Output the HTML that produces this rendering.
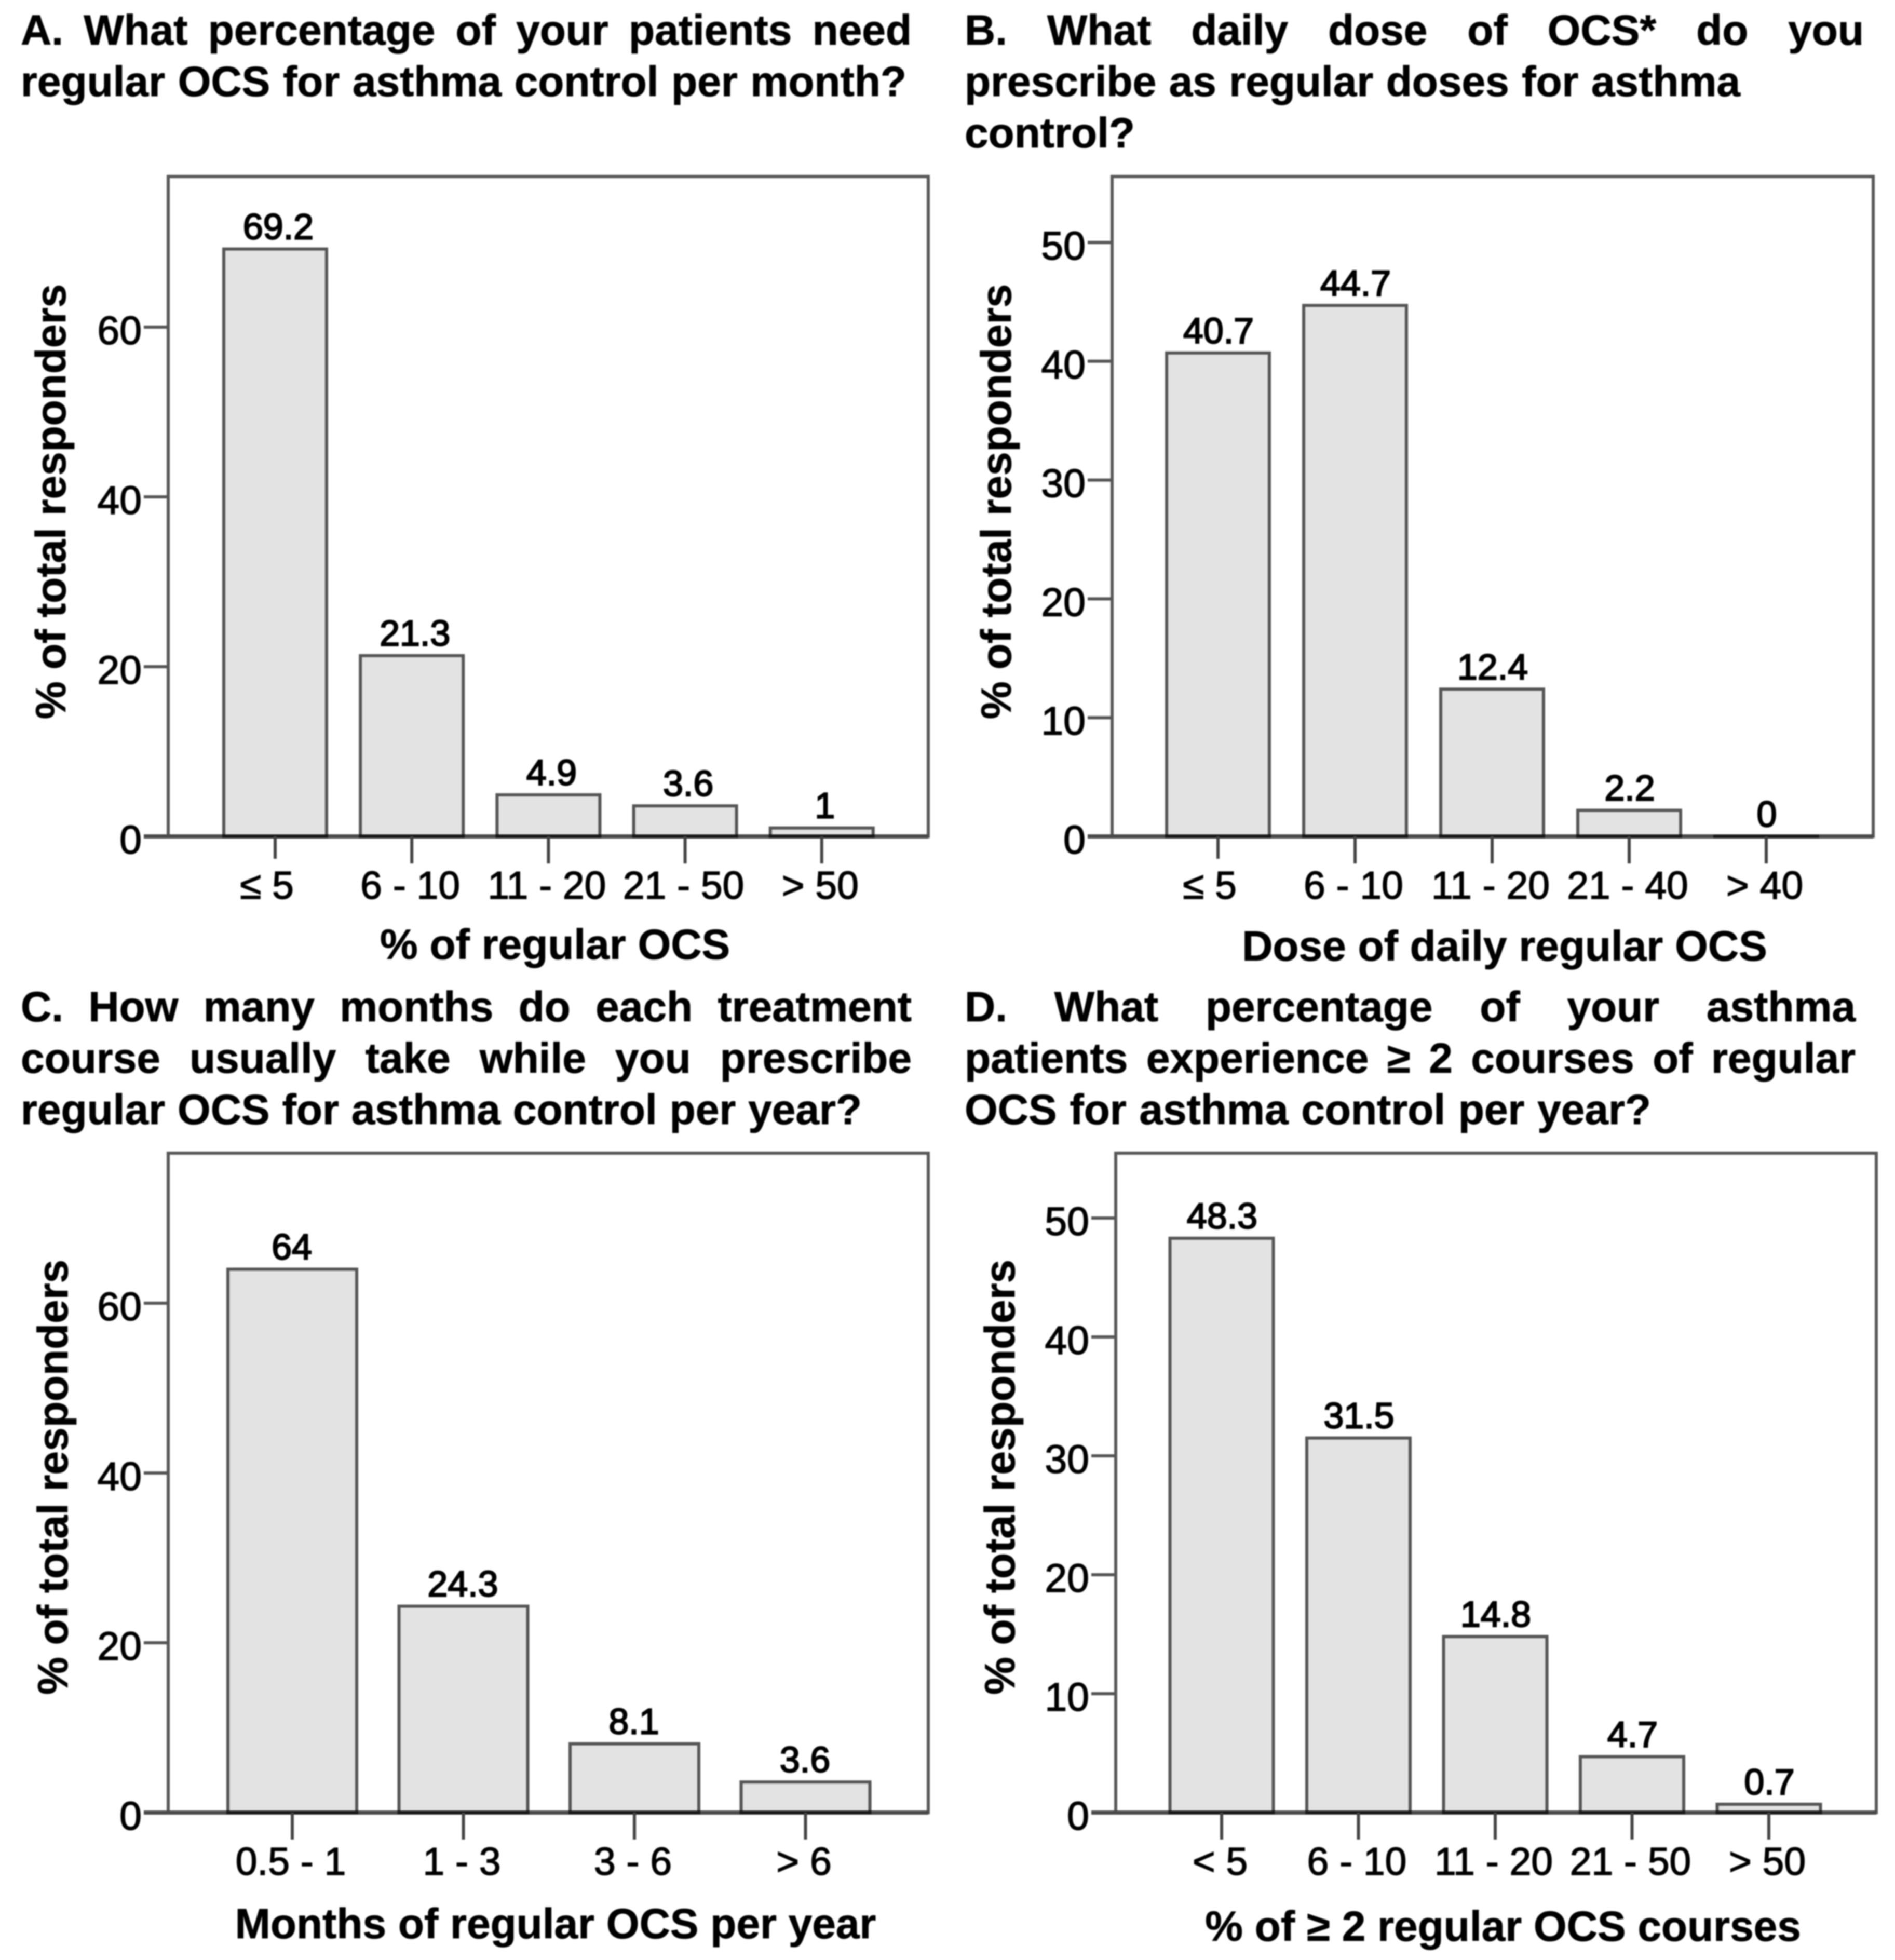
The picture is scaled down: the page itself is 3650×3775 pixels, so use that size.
<!DOCTYPE html>
<html lang="en">
<head>
<meta charset="utf-8">
<title>Regular OCS survey charts</title>
<style>
html,body{margin:0;padding:0;background:#fff;width:3650px;height:3775px;overflow:hidden}
svg{display:block;filter:blur(1.2px)}
text{font-family:"Liberation Sans",sans-serif;fill:#000}
.ttl{font-size:82px;font-weight:700;stroke:#000;stroke-width:.8px}
.axt{font-size:82px;font-weight:700;stroke:#000;stroke-width:.8px}
.tick{font-size:77px;stroke:#000;stroke-width:1.6px}
.xlab{font-size:75px;stroke:#000;stroke-width:1.6px}
.val{font-size:70px;stroke:#000;stroke-width:2.4px}
.bar{mix-blend-mode:multiply}
</style>
</head>
<body>
<svg id="fig" xmlns="http://www.w3.org/2000/svg" width="3650" height="3775" viewBox="0 0 3650 3775">
  <rect x="0" y="0" width="3650" height="3775" fill="#fff"/>

  <g>
    <text class="ttl just" data-w="1716" x="40" y="86">A. What percentage of your patients need</text>
    <text class="ttl just" data-w="1706" x="40" y="185">regular OCS for asthma control per month?</text>
  </g>
  <g>
    <text class="ttl just" data-w="1732" x="1858" y="86">B. What daily dose of OCS* do you</text>
    <text class="ttl just" data-w="1494" x="1858" y="185">prescribe as regular doses for asthma</text>
    <text class="ttl" x="1858" y="284">control?</text>
  </g>
  <g>
    <text class="ttl just" data-w="1716" x="40" y="1967">C. How many months do each treatment</text>
    <text class="ttl just" data-w="1716" x="40" y="2066">course usually take while you prescribe</text>
    <text class="ttl just" data-w="1620" x="40" y="2165">regular OCS for asthma control per year?</text>
  </g>
  <g>
    <text class="ttl just" data-w="1716" x="1858" y="1967">D. What percentage of your asthma</text>
    <text class="ttl just" data-w="1716" x="1858" y="2066">patients experience ≥ 2 courses of regular</text>
    <text class="ttl just" data-w="1322" x="1858" y="2165">OCS for asthma control per year?</text>
  </g>

  <text class="axt" text-anchor="middle" transform="translate(126 966) rotate(-90)">% of total responders</text>
  <text class="axt" text-anchor="middle" transform="translate(1947 966) rotate(-90)">% of total responders</text>
  <text class="axt" text-anchor="middle" transform="translate(130 2845) rotate(-90)">% of total responders</text>
  <text class="axt" text-anchor="middle" transform="translate(1954 2845) rotate(-90)">% of total responders</text>

  <text class="axt" text-anchor="middle" x="1069" y="1847">% of regular OCS</text>
  <text class="axt" text-anchor="middle" x="2898" y="1850">Dose of daily regular OCS</text>
  <text class="axt" text-anchor="middle" x="1070" y="3733">Months of regular OCS per year</text>
  <text class="axt" text-anchor="middle" x="2895" y="3738">% of ≥ 2 regular OCS courses</text>

  <g id="charts"></g>
</svg>
<script>
const categoriesA = ['≤ 5', '6 - 10', '11 - 20', '21 - 50', '> 50'];
const valuesA = [69.2, 21.3, 4.9, 3.6, 1];
const valueLabelsA = ['69.2', '21.3', '4.9', '3.6', '1'];
const yTicksA = [0, 20, 40, 60];

const categoriesB = ['≤ 5', '6 - 10', '11 - 20', '21 - 40', '> 40'];
const valuesB = [40.7, 44.7, 12.4, 2.2, 0];
const valueLabelsB = ['40.7', '44.7', '12.4', '2.2', '0'];
const yTicksB = [0, 10, 20, 30, 40, 50];

const categoriesC = ['0.5 - 1', '1 - 3', '3 - 6', '> 6'];
const valuesC = [64, 24.3, 8.1, 3.6];
const valueLabelsC = ['64', '24.3', '8.1', '3.6'];
const yTicksC = [0, 20, 40, 60];

const categoriesD = ['< 5', '6 - 10', '11 - 20', '21 - 50', '> 50'];
const valuesD = [48.3, 31.5, 14.8, 4.7, 0.7];
const valueLabelsD = ['48.3', '31.5', '14.8', '4.7', '0.7'];
const yTicksD = [0, 10, 20, 30, 40, 50];

const NS = 'http://www.w3.org/2000/svg';
const root = document.getElementById('charts');

function make(parent, tag, attrs, txt) {
  const el = document.createElementNS(NS, tag);
  for (const k in attrs) el.setAttribute(k, attrs[k]);
  if (txt !== undefined) el.textContent = txt;
  parent.appendChild(el);
  return el;
}

function drawPanel(p, categories, values, valueLabels, yTicks) {
  const yScale = v => p.base - v * p.unit;
  const xScale = i => p.x0 + i * p.step;
  const g = make(root, 'g', {});
  
  

  const frame = make(g, 'rect', {x: p.left, y: p.top, width: p.right - p.left, height: p.base - p.top, fill: '#fff', stroke: '#585858', 'stroke-width': 6});
  
  

  yTicks.forEach(t => {
    const mark = make(g, 'line', {x1: p.left - 47, x2: p.left, y1: yScale(t), y2: yScale(t), stroke: '#555', 'stroke-width': 6});
    
    
    const lab = make(g, 'text', {class: 'tick', x: p.left - 51, y: yScale(t) + 33, 'text-anchor': 'end'}, String(t));
    
    
  });

  const axis = make(g, 'line', {x1: p.left - 47, x2: p.right, y1: p.base, y2: p.base, stroke: '#4a4a4a', 'stroke-width': 8});
  
  

  values.forEach((v, i) => {
    const cx = xScale(i);
    const bar = make(g, 'rect', {class: 'bar', x: cx - p.barW / 2, y: yScale(v), width: p.barW, height: Math.max(p.base - yScale(v), 0.01), fill: '#e3e3e3', stroke: '#555', 'stroke-width': 6});
    
    
    const lab = make(g, 'text', {class: 'val', x: cx + p.valDx, y: yScale(v) - 19, 'text-anchor': 'middle'}, valueLabels[i]);
    
    
  });

  categories.forEach((c, i) => {
    const cx = xScale(i);
    const len = i === 0 ? p.firstTick : 52;
    const mark = make(g, 'line', {x1: cx, x2: cx, y1: p.base, y2: p.base + len, stroke: '#444', 'stroke-width': 6});
    
    
    const dx = i === 0 ? p.firstDx : -3;
    const lab = make(g, 'text', {class: 'xlab', x: cx + dx, y: p.base + 120, 'text-anchor': 'middle'}, c);
    
    
  });
}

drawPanel({id: 'a', left: 324, right: 1788, top: 340, base: 1611, unit: 16.35, x0: 530, step: 263.2, barW: 198, valDx: 6, firstTick: 43, firstDx: -16}, categoriesA, valuesA, valueLabelsA, yTicksA);
drawPanel({id: 'b', left: 2142, right: 3608, top: 340, base: 1611, unit: 22.88, x0: 2346, step: 264, barW: 198, valDx: 1, firstTick: 43, firstDx: -16}, categoriesB, valuesB, valueLabelsB, yTicksB);
drawPanel({id: 'c', left: 324, right: 1788, top: 2221, base: 3491, unit: 16.35, x0: 563, step: 329.5, barW: 248, valDx: -1, firstTick: 52, firstDx: -3}, categoriesC, valuesC, valueLabelsC, yTicksC);
drawPanel({id: 'd', left: 2149, right: 3614, top: 2221, base: 3491, unit: 22.9, x0: 2353, step: 263.5, barW: 199, valDx: 1, firstTick: 52, firstDx: -3}, categoriesD, valuesD, valueLabelsD, yTicksD);

document.querySelectorAll('.just').forEach(t => {
  const target = parseFloat(t.getAttribute('data-w'));
  const gaps = t.textContent.trim().split(/\s+/).length - 1;
  const natural = t.getComputedTextLength();
  t.style.wordSpacing = ((target - natural) / gaps) + 'px';
});
</script>
</body>
</html>
